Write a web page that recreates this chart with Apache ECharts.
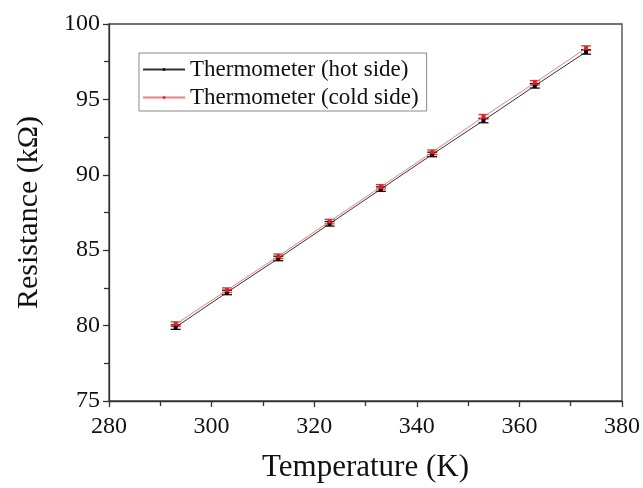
<!DOCTYPE html>
<html><head><meta charset="utf-8">
<script src="https://cdn.jsdelivr.net/npm/echarts@6/dist/echarts.min.js"></script>
<style>html,body{margin:0;padding:0;background:#fff}#c{width:643px;height:488px}</style>
</head><body><div id="c"></div>
<script>
const temps = [293, 303, 313, 323, 333, 343, 353, 363, 373];
const hotSide = [79.9, 82.2, 84.45, 86.75, 89.05, 91.35, 93.6, 95.9, 98.15];
const coldSide = [80.1, 82.35, 84.6, 86.9, 89.2, 91.5, 93.85, 96.1, 98.4];
const hotErr = [0.15, 0.15, 0.15, 0.15, 0.15, 0.15, 0.15, 0.15, 0.15];
const coldErr = [0.15, 0.15, 0.15, 0.15, 0.15, 0.15, 0.15, 0.15, 0.15];
const names = ['Thermometer (hot side)', 'Thermometer (cold side)'];
const xTicks = [280, 300, 320, 340, 360, 380];
const yTicks = [75, 80, 85, 90, 95, 100];

const font = 'Liberation Serif, Times New Roman, serif';
function errSeries(vals, errs, color) {
  return {
    type: 'custom', silent: true, z: 3,
    data: temps.map((t, i) => [t, vals[i] - errs[i], vals[i] + errs[i]]),
    renderItem: function (params, api) {
      const lo = api.coord([api.value(0), api.value(1)]);
      const hi = api.coord([api.value(0), api.value(2)]);
      const w = 5;
      const st = { stroke: color, lineWidth: 1.3 };
      return { type: 'group', children: [
        { type: 'line', shape: { x1: lo[0], y1: lo[1], x2: hi[0], y2: hi[1] }, style: st },
        { type: 'line', shape: { x1: lo[0] - w, y1: lo[1], x2: lo[0] + w, y2: lo[1] }, style: st },
        { type: 'line', shape: { x1: hi[0] - w, y1: hi[1], x2: hi[0] + w, y2: hi[1] }, style: st }
      ]};
    }
  };
}
const chart = echarts.init(document.getElementById('c'));
chart.setOption({
  animation: false,
  backgroundColor: '#fff',
  grid: { left: 109, right: 21, top: 24, bottom: 87, show: true, borderColor: '#444', borderWidth: 1.3, backgroundColor: 'transparent' },
  legend: {
    left: 139, top: 53, orient: 'vertical', itemGap: 5,
    itemWidth: 42, itemHeight: 3,
    padding: [5, 8, 2, 3],
    borderColor: '#888', borderWidth: 1,
    textStyle: { fontFamily: font, fontSize: 23, color: '#111', padding: [0, 0, 0, 0] },
    data: names
  },
  xAxis: {
    type: 'value', min: xTicks[0], max: xTicks[xTicks.length - 1], interval: 20,
    name: 'Temperature (K)', nameLocation: 'middle', nameGap: 51,
    nameTextStyle: { fontFamily: font, fontSize: 31, color: '#111' },
    axisLine: { show: true, lineStyle: { color: '#333', width: 1.3 } },
    axisTick: { show: true, length: 6, lineStyle: { color: '#333', width: 1.3 } },
    minorTick: { show: true, splitNumber: 2, length: 5, lineStyle: { color: '#333', width: 1.3 } },
    axisLabel: { fontFamily: font, fontSize: 24, color: '#111', margin: 14 },
    splitLine: { show: false }
  },
  yAxis: {
    type: 'value', min: yTicks[0], max: yTicks[yTicks.length - 1], interval: 5,
    name: 'Resistance (kΩ)', nameLocation: 'middle', nameGap: 65,
    nameTextStyle: { fontFamily: font, fontSize: 30, color: '#111' },
    axisLine: { show: true, lineStyle: { color: '#333', width: 1.3 } },
    axisTick: { show: true, length: 6, lineStyle: { color: '#333', width: 1.3 } },
    minorTick: { show: true, splitNumber: 2, length: 5, lineStyle: { color: '#333', width: 1.3 } },
    axisLabel: { fontFamily: font, fontSize: 24, color: '#111', margin: 9 },
    splitLine: { show: false }
  },
  series: [
    { name: names[0], type: 'line', data: temps.map((t, i) => [t, hotSide[i]]),
      color: '#111', symbol: 'rect', symbolSize: 4, showSymbol: true,
      lineStyle: { color: '#333', width: 1 }, itemStyle: { color: '#000' }, z: 4 },
    { name: names[1], type: 'line', data: temps.map((t, i) => [t, coldSide[i]]),
      color: '#e03030', symbol: 'rect', symbolSize: 4, showSymbol: true,
      lineStyle: { color: '#e88080', width: 1 }, itemStyle: { color: '#e02020' }, z: 4 },
    errSeries(hotSide, hotErr, '#111'),
    errSeries(coldSide, coldErr, '#e03030')
  ]
});
</script></body></html>
